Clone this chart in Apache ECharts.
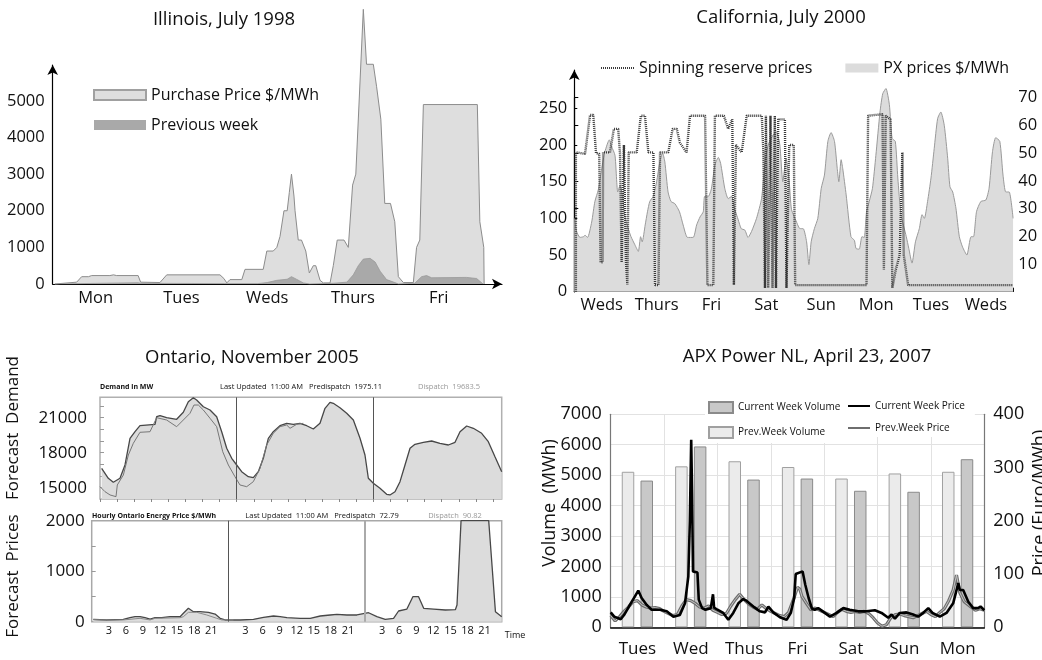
<!DOCTYPE html>
<html><head><meta charset="utf-8">
<script src="https://cdn.jsdelivr.net/npm/echarts@6/dist/echarts.min.js"></script>
<style>html,body{margin:0;padding:0;background:#fff}#c{width:1042px;height:660px}</style>
</head><body><div id="c"></div>
<script>
// ---------------- Illinois, July 1998 (hour of week, $/MWh) ----------------
const ilDays = ['Mon','Tues','Weds','Thurs','Fri'];
const ilYTicks = [0,1000,2000,3000,4000,5000];
const ilDayBounds = [24,48,72,96,120];
const ilPurchase = [[0.6,0],[0.65,50],[6.7,50],[8.1,200],[10,200],[10.9,230],[16,230],[17,250],[17.9,230],[23.9,230],[24.6,50],[30,40],[31.9,250],[46.8,250],[47.9,150],[48.7,30],[49.6,120],[52.9,120],[53.8,400],[58.9,400],[59.9,900],[61.7,900],[62.7,1000],[63.6,1300],[64.7,2000],[65.6,2000],[66.2,2500],[66.8,3000],[67.5,2400],[67.8,2000],[68.7,1200],[69.6,1200],[70.8,900],[71.8,300],[72.9,500],[73.6,500],[74.8,100],[75.7,30],[77.6,30],[78.5,500],[79.6,1200],[81.5,1200],[82.7,1000],[83.9,2700],[84.8,3000],[86.9,7500],[87.8,6000],[89.7,6000],[90.6,5400],[91.8,4500],[92.9,2200],[94.5,2200],[95.7,1700],[96.7,200],[98.1,40],[100.9,40],[101.8,1000],[102.7,1200],[103.7,4900],[118.8,4900],[119.5,1700],[120.6,1000],[120.7,0]];
const ilPrevWeek = [[0.6,0],[0.65,35],[23.9,35],[24.6,20],[48,10],[57.4,10],[60,40],[62.7,100],[65.6,130],[66.8,200],[68.2,130],[70.1,30],[71.9,0],[78.5,20],[82.3,50],[84.1,250],[85.5,500],[86.9,680],[88.8,700],[90.2,600],[91.6,350],[93.4,120],[95.7,40],[96.7,0],[101.3,20],[103.2,200],[104.6,230],[106,170],[115.8,180],[118.6,150],[120.4,0]];

// ---------------- California, July 2000 (hour, $/MWh) ----------------
const caDays = ['Weds','Thurs','Fri','Sat','Sun','Mon','Tues','Weds'];
const caLeftTicks = [0,50,100,150,200,250];
const caRightTicks = [10,20,30,40,50,60,70];
const caPX = [[0,100],[1,82],[2.5,74],[4,75],[4.7,77],[5.8,74],[7.6,95],[9,123],[10.5,139],[12,168],[13.4,191],[15.3,207],[16.3,198],[17.8,186],[19,136],[20,145],[21,132],[22,105],[23.6,86],[24.8,75],[26.5,64],[28,55],[29,75],[29.7,68],[31,91],[32,109],[33,123],[34.5,130],[36,150],[37.4,177],[38.6,189],[39.6,177],[41,136],[42.3,123],[44,120],[46,109],[47.6,91],[49.5,74],[52,74],[53.5,91],[55,102],[56.4,109],[57,130],[58.6,130],[60,141],[61.5,173],[63,183],[64,175],[65.8,141],[67.3,127],[68.8,130],[70,114],[71.7,98],[73,86],[74.6,84],[76,74],[77.5,82],[79.7,100],[81.9,127],[83.3,173],[84.8,200],[87,214],[88.4,218],[89.9,200],[91.2,150],[92.6,182],[94,150],[95,112],[97.2,95],[98.7,86],[100.1,86],[101.6,68],[102.6,37],[103.6,68],[105,86],[106.5,100],[108,141],[109.4,159],[110.9,205],[112.3,217],[113.8,205],[115,168],[115.7,150],[116.7,180],[117.4,168],[118.9,132],[121,75],[122.5,70],[123.2,59],[124.6,58],[125.8,75],[126.8,74],[127.8,109],[129,123],[130.4,141],[131.9,186],[133.7,245],[134.9,270],[136.3,277],[137.8,255],[139,209],[140.4,205],[141.5,155],[142.9,105],[145.2,75],[146.3,59],[147.7,39],[149.2,68],[150.9,86],[152.1,105],[153.1,100],[154.5,123],[156,155],[157.4,195],[158.9,236],[160.3,245],[161.8,227],[163.3,182],[164.3,143],[165.5,136],[166.9,114],[168.4,75],[169.8,61],[171.7,50],[173.5,75],[174.6,75],[175.9,109],[177.8,123],[180,125],[181.4,141],[182.9,191],[184.3,210],[186.1,205],[187.5,159],[188.7,136],[190.2,136],[191.9,100]];
const caSpin = [[0.7,0],[0.7,190],[4.7,188],[5.4,190],[6.9,241],[8.3,241],[9.5,189],[10.9,188],[11.5,40],[12.4,40],[12.6,190],[15.6,190],[17.3,222],[19.2,222],[20,188],[20.7,40],[21.7,200],[22.6,40],[23.2,10],[23.8,190],[27.3,190],[29.1,240],[30.9,240],[32.4,190],[34.6,190],[35.3,9],[36.8,9],[37.5,190],[41.1,190],[43,222],[44.8,222],[46.2,203],[49.1,190],[50.6,240],[57.2,240],[58.2,9],[60.8,9],[61.5,240],[65.4,240],[67.3,222],[69.1,235],[69.8,9],[70.7,200],[73.2,190],[75.4,240],[82,240],[82.7,190],[83.4,5],[83.8,240],[84.8,5],[85.8,240],[86.7,5],[87.7,240],[88.2,5],[89.2,235],[92.1,235],[92.8,5],[94,200],[96,200],[96.6,9],[127.8,9],[128.5,240],[134.8,242],[135.4,30],[136.2,240],[138.3,235],[139.1,5],[140.6,30],[142.3,50],[143.5,190],[144.1,50],[146,9],[191.9,9]];

// ---------------- Ontario, November 2005 (hour) ----------------
const onDays = ['Tues','Weds','Thurs'];
const onDayLabelAt = [13, 38.5, 64];
const onDemandTicks = [15000,18000,21000];
const onDemandMinor = [15000,16000,17000,18000,19000,20000,21000,22000];
const onPriceTicks = [0,1000,2000];
const onPriceMinor = [500,1000,1500];
const onHourTicks = [0,3,6,9,12,15,18,21,24,27,30,33,36,39,42,45,48,51,54,57,60,63,66,69];
const onHourLabels = [3,6,9,12,15,18,21,27,30,33,36,39,42,45,51,54,57,60,63,66,69];
const onDemandPre = [[0.29,16663],[1.46,15807],[2.34,15464],[3.51,15807],[4.39,16946],[5.27,19235],[6.15,19800],[7.02,20314],[9.66,20434],[9.95,21086],[10.54,21170],[11.7,21000],[13.46,20863],[14.63,21463],[15.51,22371],[16.39,22714],[16.97,22517],[18.15,21943],[19.32,21660],[20.49,21086],[21.37,19800],[22.25,18378],[23.13,17521],[24.0,16946],[24.88,16372],[26.05,15944],[26.92,15858],[27.8,16372],[28.68,17521],[29.56,19235],[30.43,19800],[31.6,20314],[32.78,20520],[33.95,20434],[35.12,20520],[36.3,20314],[37.46,20032],[38.63,20520],[39.51,21806],[40.39,22320],[40.97,22234],[42.14,21857],[43.32,21377],[44.49,20803],[45.66,19235],[46.53,17803],[47.12,15807],[48.0,15378],[49.17,14950],[50.34,14435],[50.92,14378],[51.8,14658],[52.68,15515],[53.56,16946],[54.44,18378],[55.31,18720],[56.78,18892],[58.24,19003],[59.7,18806],[61.17,18660],[62.34,18892],[63.22,19800],[64.39,20289],[65.56,20092],[67.02,19663],[68.19,18943],[69.36,17658],[70.54,16372]];
const onDemandDisp = [[0,15087],[0.88,14658],[1.76,14378],[2.81,14230],[3.04,15232],[4.1,16089],[4.98,17803],[5.85,18806],[7.02,19749],[8.78,19800],[9.95,21000],[11.7,20803],[13.46,20229],[14.63,20803],[15.8,21377],[16.5,22088],[17.27,22088],[18.15,21660],[19.32,20949],[20.49,20229],[21.55,18086],[22.54,16946],[23.7,15944],[24.58,15232],[25.76,15087],[26.92,15515],[28.1,16663],[29.27,18660],[30.43,19663],[31.6,20229],[32.78,20374],[33.37,20092],[34.54,20434],[35.7,20520]];
const onPricePre = [[0.28,47],[2.63,34],[5.55,47],[6.73,79],[7.61,99],[8.49,99],[9.37,79],[10.25,53],[11.13,79],[12.3,79],[13.76,99],[15.52,99],[16.1,166],[16.98,265],[17.86,198],[19.03,198],[20.5,186],[21.67,152],[22.55,67],[23.43,34],[24.9,34],[26.07,34],[28.41,47],[30.17,87],[31.93,113],[33.1,99],[34.27,79],[36.62,67],[38.37,67],[40.13,113],[41.89,133],[43.06,146],[44.82,133],[46.57,133],[48.62,178],[50.08,99],[51.55,47],[53.01,67],[53.89,212],[55.35,251],[56.4,495],[57.4,495],[58.3,265],[60.05,251],[62.1,232],[63.86,238],[64.15,330],[64.86,2000],[69.72,2000],[70.9,198],[72,99]];
const onPriceDisp = [[0.28,40],[2.63,30],[5.55,34],[8.49,67],[10.25,34],[11.13,67],[15.52,79],[16.1,99],[16.98,186],[18.45,186],[20.2,133],[21.96,67],[22.84,34],[24.9,34]];

// ---------------- APX Power NL, April 23, 2007 ----------------
const apxDays = ['Tues','Wed','Thus','Fri','Sat','Sun','Mon'];
const apxPrevVol = [5111,5290,5457,5268,4889,5056,5111];
const apxCurVol  = [4822,5944,4855,4889,4487,4454,5524];
const apxCurPrice = [[0,28],[1.6,20],[4.5,15],[6,23],[8.2,39],[10.9,58],[12.4,69],[13.9,55],[16.2,42],[18.4,33],[22.2,33],[25.2,30],[28.2,20],[31.1,23],[33.4,45],[34.9,95],[35.6,200],[36.2,352],[36.6,250],[37,105],[39,103],[39.6,52],[41.1,36],[42.6,33],[45,36],[46,62],[46.5,37],[48,33],[50.6,27],[52.9,14],[55.1,27],[57.4,45],[59.6,53],[61,50],[64.1,39],[67.1,30],[69.4,28],[70.9,39],[73.1,28],[76.1,19],[79.1,14],[81,27],[82.5,55],[83.2,100],[86.3,105],[87.5,80],[89,55],[90.5,35],[91.8,33],[93.3,36],[96.3,27],[98.6,20],[101.6,27],[104.6,36],[107.5,33],[111.3,30],[115,30],[118.8,32],[121.8,27],[124.8,18],[126.3,24],[127.8,16],[130,27],[133,28],[136,24],[138.3,20],[140.5,27],[142.8,36],[144.7,27],[148,20],[151,27],[154,45],[156.3,83],[157,70],[158.5,70],[160.8,48],[163,36],[165.2,36],[166.3,39],[168,32]];
const apxPrevPrice = [[0,22],[2,12],[4,20],[6,30],[8,38],[10,48],[12,50],[14,42],[16,38],[18,36],[20,37],[22,35],[24,30],[26,26],[28,22],[30,24],[32,40],[34,52],[36,50],[38,45],[40,38],[42,36],[44,40],[46,32],[48,28],[50,24],[52,26],[54,40],[56,52],[58,62],[60,52],[62,44],[64,38],[66,34],[68,42],[70,35],[72,30],[74,26],[76,22],[78,20],[80,28],[82,50],[84,75],[85,72],[86,58],[88,45],[90,33],[92,36],[94,32],[96,28],[98,24],[100,20],[102,28],[104,34],[106,30],[108,28],[110,30],[112,28],[114,30],[116,26],[118,18],[120,8],[122,2],[124,5],[126,18],[128,24],[130,25],[132,22],[134,20],[136,18],[138,22],[140,26],[142,30],[144,24],[146,20],[148,28],[150,35],[152,50],[154,70],[155.5,98],[157,65],[159,48],[162,38],[164,32],[166,35],[168,32]];

// ---------------- chart ----------------
const F = "'Open Sans', 'Noto Sans', sans-serif";
const TXT = '#111';
const num = v => String(v);
function t(text, x, y, size, opt) {
  opt = opt || {};
  return {type:'text', x:x, y:y, rotation: opt.rot || 0, z: 50,
    style:{text:text, fontSize:size, fontFamily:F, fontWeight: opt.bold ? 'bold' : 'normal',
      fill: opt.fill || TXT, align: opt.align || 'center', verticalAlign:'middle'}};
}
const grids = [
  {left:52.7, top:65, width:449.3, height:219},      // 0 Illinois
  {left:574.3, top:70, width:439, height:221.7},     // 1 California
  {left:574.3, top:97.7, width:439, height:194},     // 2 California right axis
  {left:100, top:397.3, width:401.7, height:101.7, show:true, borderColor:'#b0b0b0', borderWidth:1.5}, // 3 Ontario demand
  {left:91.7, top:520.7, width:410, height:101, show:true, borderColor:'#a8a8a8', borderWidth:1.5},   // 4 Ontario price
  {left:610.7, top:414.3, width:373.6, height:213}   // 5 APX
].map(g => Object.assign({containLabel:false, outerBoundsMode:'none'}, g));

const lbl = (size, margin, extra) => Object.assign({color:TXT, fontSize:size, fontFamily:F, margin:margin}, extra||{});
const arrowLine = {show:true, lineStyle:{color:'#000', width:1.2}, symbol:['none','arrow'], symbolSize:[8,10]};
const hidden = {opacity:0};

const option = {
  animation:false,
  backgroundColor:'#fff',
  textStyle:{fontFamily:F},
  grid: grids,
  xAxis: [
    {gridIndex:0, type:'value', min:0, max:125.7, axisLine:arrowLine,
     axisTick:{show:true, inside:true, length:4, lineStyle:{color:'#000'}, customValues:ilDayBounds},
     axisLabel:lbl(16.5,6,{customValues:[12,36,60,84,108], formatter:v=>ilDays[Math.floor(v/24)]}), splitLine:{show:false}},
    {gridIndex:1, type:'value', min:0, max:192, interval:6, axisLine:{show:true, lineStyle:{color:'#000', width:1.2}},
     axisTick:{show:true, inside:true, length:4, lineStyle:{color:'#000'}},
     axisLabel:lbl(16.5,5,{customValues:[12,36,60,84,108,132,156,180], formatter:v=>caDays[Math.floor(v/24)]}), splitLine:{show:false}},
    {gridIndex:2, type:'value', min:0, max:1, show:false},
    {gridIndex:3, type:'value', min:0, max:70.54, axisLine:{show:false},
     axisTick:{show:true, length:3, lineStyle:{color:'#888'}, customValues:onHourTicks},
     axisLabel:{show:false}, splitLine:{show:false}},
    {gridIndex:4, type:'value', min:0, max:72, axisLine:{show:false}, axisTick:{show:false},
     axisLabel:lbl(11,4,{customValues:onHourLabels, formatter:v=>String(v%24)}), splitLine:{show:false},
     name:'Time', nameLocation:'end', nameGap:3, nameTextStyle:{fontSize:9, color:TXT, fontFamily:F, verticalAlign:'top', padding:[9,0,0,0]}},
    {gridIndex:4, type:'value', min:0, max:72, axisLine:{show:false}, axisTick:{show:false},
     axisLabel:lbl(18,19,{customValues:onDayLabelAt, formatter:v=>onDays[onDayLabelAt.indexOf(v)]}), splitLine:{show:false}},
    {gridIndex:5, type:'category', data:apxDays, boundaryGap:true,
     axisLine:{show:true, lineStyle:{color:'#000', width:1.5}}, axisTick:{show:false},
     axisLabel:lbl(17,13), splitLine:{show:true, lineStyle:{color:'#e2e2e2', width:1}}},
    {gridIndex:5, type:'value', min:0, max:168, show:false}
  ],
  yAxis: [
    {gridIndex:0, type:'value', min:0, max:5980, axisLine:arrowLine, axisTick:{show:false},
     axisLabel:lbl(16.5,8,{customValues:ilYTicks, formatter:num}), splitLine:{show:false}},
    {gridIndex:1, type:'value', min:0, max:302.3, axisLine:arrowLine,
     axisTick:{show:true, inside:true, length:3, lineStyle:{color:'#000'}, customValues:caLeftTicks},
     axisLabel:lbl(16.5,7,{customValues:caLeftTicks, formatter:num}), splitLine:{show:false}},
    {gridIndex:2, type:'value', position:'right', min:0, max:70, interval:10,
     axisLine:{show:true, lineStyle:{color:'#000', width:1.2}},
     axisTick:{show:true, length:4, lineStyle:{color:'#000'}, customValues:caRightTicks},
     axisLabel:lbl(16.5,5,{customValues:caRightTicks, formatter:num}), splitLine:{show:false}},
    {gridIndex:3, type:'value', min:14030, max:22750, axisLine:{show:false},
     axisTick:{show:true, inside:true, length:4, lineStyle:{color:'#999'}, customValues:onDemandMinor},
     axisLabel:lbl(17,13,{customValues:onDemandTicks, formatter:num}), splitLine:{show:false}},
    {gridIndex:4, type:'value', min:0, max:2000, axisLine:{show:false},
     axisTick:{show:true, inside:true, length:4, lineStyle:{color:'#999'}, customValues:onPriceMinor},
     axisLabel:lbl(17,7,{customValues:onPriceTicks, formatter:num}), splitLine:{show:false}},
    {gridIndex:5, type:'value', min:0, max:7000, interval:1000,
     axisLine:{show:true, lineStyle:{color:'#777', width:1.2}}, axisTick:{show:false},
     axisLabel:lbl(18,9,{formatter:num}), splitLine:{show:true, lineStyle:{color:'#e2e2e2', width:1}}},
    {gridIndex:5, type:'value', position:'right', min:0, max:400, interval:100,
     axisLine:{show:true, lineStyle:{color:'#777', width:1.2}}, axisTick:{show:false},
     axisLabel:lbl(18,9,{formatter:num}), splitLine:{show:false}}
  ],
  legend: [
    {data:[{name:'Purchase Price $/MWh', icon:'rect'},{name:'Previous week', icon:'rect'}],
     orient:'vertical', left:93, top:85, padding:0, itemWidth:52, itemHeight:10, itemGap:10, selectedMode:false,
     textStyle:{fontSize:16, fontFamily:F, color:TXT, lineHeight:20}},
    {data:[{name:'Spinning reserve prices', itemStyle:hidden},{name:'PX prices $/MWh', icon:'rect'}],
     orient:'horizontal', left:600, top:60, padding:0, itemWidth:33, itemHeight:9, itemGap:33, selectedMode:false,
     textStyle:{fontSize:16, fontFamily:F, color:TXT}},
    {data:[{name:'Current Week Volume', icon:'rect'},{name:'Prev.Week Volume', icon:'rect'}],
     orient:'vertical', left:705, top:398, padding:[3,30,4,3], backgroundColor:'#fff', itemWidth:24, itemHeight:11, itemGap:12, selectedMode:false,
     textStyle:{fontSize:10, fontFamily:F, color:TXT}},
    {data:[{name:'Current Week Price', itemStyle:hidden},{name:'Prev.Week Price', itemStyle:hidden}],
     orient:'vertical', left:843, top:398, padding:[3,10,4,4], backgroundColor:'#fff', itemWidth:22, itemHeight:11, itemGap:12, selectedMode:false,
     textStyle:{fontSize:10, fontFamily:F, color:TXT}}
  ],
  series: [
    // Illinois
    {type:'line', name:'Purchase Price $/MWh', xAxisIndex:0, yAxisIndex:0, data:ilPurchase, symbol:'none', clip:false,
     lineStyle:{color:'#8c8c8c', width:1}, itemStyle:{color:'#dedede', borderColor:'#a0a0a0', borderWidth:1}, areaStyle:{color:'#dedede', opacity:1}},
    {type:'line', name:'Previous week', xAxisIndex:0, yAxisIndex:0, data:ilPrevWeek, symbol:'none',
     lineStyle:{color:'#999', width:0.8}, itemStyle:{color:'#a9a9a9'}, areaStyle:{color:'#a9a9a9', opacity:1}},
    // California
    {type:'line', name:'PX prices $/MWh', xAxisIndex:1, yAxisIndex:1, data:caPX, symbol:'none', smooth:0.2,
     lineStyle:{color:'#9a9a9a', width:1}, itemStyle:{color:'#dcdcdc'}, areaStyle:{color:'#dcdcdc', opacity:1}},
    {type:'line', name:'Spinning reserve prices', xAxisIndex:1, yAxisIndex:1, data:caSpin, symbol:'none',
     lineStyle:{color:'#3a3a3a', width:2.4, type:[1,1]}, itemStyle:{color:'#3a3a3a'}},
    {type:'line', xAxisIndex:2, yAxisIndex:2, data:[], symbol:'none'},
    // Ontario demand
    {type:'line', xAxisIndex:3, yAxisIndex:3, data:onDemandPre, symbol:'none',
     lineStyle:{color:'#474747', width:1.3}, areaStyle:{color:'#dcdcdc', opacity:1},
     markLine:{silent:true, symbol:'none', label:{show:false}, lineStyle:{color:'#555', width:1, type:'solid'},
       data:[{xAxis:24},{xAxis:48}]}},
    {type:'line', xAxisIndex:3, yAxisIndex:3, data:onDemandDisp, symbol:'none', lineStyle:{color:'#777', width:1}},
    // Ontario price
    {type:'line', xAxisIndex:4, yAxisIndex:4, data:onPricePre, symbol:'none',
     lineStyle:{color:'#474747', width:1.3}, areaStyle:{color:'#dcdcdc', opacity:1},
     markLine:{silent:true, symbol:'none', label:{show:false},
       data:[{xAxis:24, lineStyle:{color:'#555', width:1, type:'solid'}},{xAxis:48, lineStyle:{color:'#aaa', width:2, type:'solid'}}]}},
    {type:'line', xAxisIndex:4, yAxisIndex:4, data:onPriceDisp, symbol:'none', lineStyle:{color:'#8a8a8a', width:1}},
    // APX
    {type:'bar', name:'Prev.Week Volume', xAxisIndex:6, yAxisIndex:5, data:apxPrevVol, barWidth:12.5, barGap:'50%',
     itemStyle:{color:'#ebebeb', borderColor:'#a0a0a0', borderWidth:1}},
    {type:'bar', name:'Current Week Volume', xAxisIndex:6, yAxisIndex:5, data:apxCurVol, barWidth:12.5, barGap:'50%',
     itemStyle:{color:'#c8c8c8', borderColor:'#8a8a8a', borderWidth:1}},
    {type:'line', name:'Prev.Week Price', xAxisIndex:7, yAxisIndex:6, data:apxPrevPrice, symbol:'none',
     lineStyle:{color:'#6e6e6e', width:3.2}, itemStyle:{color:'#6e6e6e'}},
    {type:'line', xAxisIndex:7, yAxisIndex:6, data:apxPrevPrice, symbol:'none', lineStyle:{color:'#c4c4c4', width:1}},
    {type:'line', name:'Current Week Price', xAxisIndex:7, yAxisIndex:6, data:apxCurPrice, symbol:'none',
     lineStyle:{color:'#000', width:2.6}, itemStyle:{color:'#000'}}
  ],
  graphic: [
    t('Illinois, July 1998', 224, 20, 18.5),
    t('California, July 2000', 781, 18, 18.5),
    t('Ontario, November 2005', 252, 358, 18.5),
    t('APX Power NL, April 23, 2007', 807, 357, 18.5),
    t('Forecast  Demand', 13, 428, 17, {rot:Math.PI/2}),
    t('Forecast  Prices', 13, 576, 17, {rot:Math.PI/2}),
    t('Volume  (MWh)', 550, 503, 18, {rot:Math.PI/2}),
    t('Price (Euro/MWh)', 1040, 503, 18, {rot:Math.PI/2}),
    t('Demand in MW', 100, 387, 7, {bold:true, align:'left'}),
    t('Last Updated  11:00 AM   Predispatch  1975.11', 301, 387, 7.5),
    t('Dispatch  19683.5', 449, 387, 7.5, {fill:'#999'}),
    t('Hourly Ontario Energy Price $/MWh', 92, 515.5, 7, {bold:true, align:'left'}),
    t('Last Updated  11:00 AM   Predispatch  72.79', 322, 515.5, 7.5),
    t('Dispatch  90.82', 455, 515.5, 7.5, {fill:'#999'})
  ]
};
const chart = echarts.init(document.getElementById('c'));
chart.setOption(option);
</script></body></html>
